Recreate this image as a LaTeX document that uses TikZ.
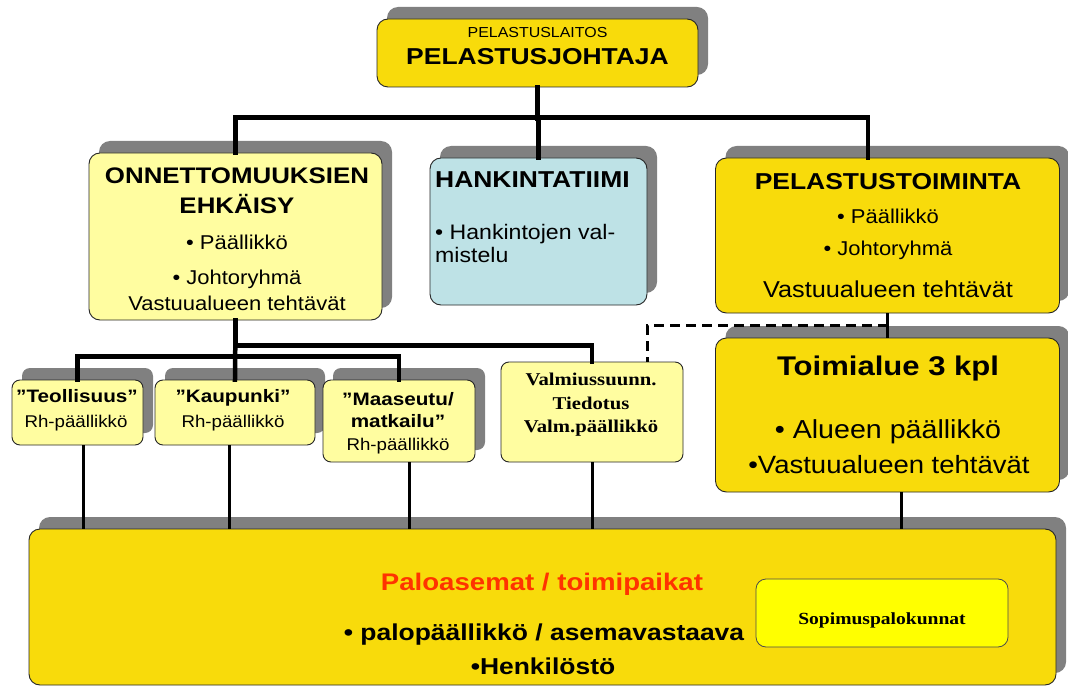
\documentclass[tikz,border=0pt]{standalone}
\usepackage{fontspec}
\setmainfont{Liberation Sans}
\newfontfamily\rsans[FakeStretch=1.1]{Liberation Sans}
\newfontfamily\bsans[FakeStretch=1.15]{Liberation Sans}
\newfontfamily\bserif[FakeStretch=1.15]{Liberation Serif}
\usetikzlibrary{shadows,calc}
\newcommand\fsz[1]{\fontsize{#1}{#1}\selectfont}
\definecolor{gold}{HTML}{F8DB0B}
\definecolor{pale}{HTML}{FFFDA0}
\definecolor{aqua}{HTML}{BEE2E6}
\definecolor{shade}{HTML}{808080}
\definecolor{lemon}{HTML}{FFFF00}
\definecolor{fire}{HTML}{FF3300}
\begin{document}
\begin{tikzpicture}[x=1pt,y=-1pt,
  flat/.style={draw=black!85, line width=0.9pt, rounded corners=11pt, inner sep=0pt},
  box/.style={flat, drop shadow={shadow xshift=10pt, shadow yshift=12pt, fill=shade, opacity=1}},
  smallbox/.style={box, rounded corners=8pt},
  txt/.style={anchor=base, inner sep=0pt},
  upline/.style={line width=4.5pt, line join=miter, line cap=rect},
  lowline/.style={line width=3pt},
  dashline/.style={line width=3pt, dash pattern=on 10pt off 6pt},
  ttl/.style={txt, font=\bsans\bfseries\fsz{#1}},
  ttl/.default=23,
  reg/.style={txt, font=\rsans\fsz{#1}},
  bld/.style={txt, font=\bsans\bfseries\fsz{#1}},
  srf/.style={txt, font=\bserif\bfseries\fsz{#1}}]
\useasboundingbox (0,0) rectangle (1068,687);
\fill[white] (0,0) rectangle (1068,687);

% ---- boxes ----
\node[box, fill=gold, minimum width=321, minimum height=68] (top) at (537.5,53) {};
\node[box, fill=pale, minimum width=293, minimum height=167] (onn) at (235.5,236.5) {};
\node[box, fill=aqua, minimum width=217, minimum height=147] (hank) at (538.5,231.5) {};
\node[box, fill=gold, minimum width=344, minimum height=155] (pel) at (887.5,235.5) {};
\node[box, fill=gold, minimum width=344, minimum height=154] (toim) at (887.5,415) {};
\node[flat, rounded corners=8pt, fill=pale, minimum width=182, minimum height=100] (valm) at (592,412) {};
\node[smallbox, fill=pale, minimum width=131, minimum height=65] (teol) at (77.5,412.5) {};
\node[smallbox, fill=pale, minimum width=160, minimum height=65] (kaup) at (235,412.5) {};
\node[smallbox, fill=pale, minimum width=152, minimum height=82] (maas) at (399,421) {};
\node[box, fill=gold, minimum width=1027, minimum height=156] (base) at (542.5,607) {};
\node[draw=black!70, line width=0.8pt, rounded corners=10pt, fill=lemon,
      minimum width=252, minimum height=68, inner sep=0pt] (sopi) at (882,613) {};

% ---- texts ----
\node[reg=14.5] (top-a) at (537.5,38) {PELASTUSLAITOS};
\node[ttl] (top-b) at (537.5,65) {PELASTUSJOHTAJA};

\node[ttl=22.5] (onn-a) at (237,184) {ONNETTOMUUKSIEN};
\node[ttl=22.5] (onn-b) at (237,214) {EHKÄISY};
\node[reg=20] (onn-c) at (237,249) {• Päällikkö};
\node[reg=20] (onn-d) at (237,284) {• Johtoryhmä};
\node[reg=20] (onn-e) at (237,310) {Vastuualueen tehtävät};

\node[ttl, anchor=base west] (hank-a) at (435,188) {HANKINTATIIMI};
\node[reg=21, anchor=base west] (hank-b) at (435,240) {• Hankintojen val-};
\node[reg=21, anchor=base west] (hank-c) at (435,262) {mistelu};

\node[ttl] (pel-a) at (888,190) {PELASTUSTOIMINTA};
\node[reg=20] (pel-b) at (888,223) {• Päällikkö};
\node[reg=20] (pel-c) at (888,255) {• Johtoryhmä};
\node[reg=23] (pel-d) at (888,297) {Vastuualueen tehtävät};

\node[bld=27] (toim-a) at (888,375) {Toimialue 3 kpl};
\node[reg=26] (toim-b) at (888,438) {• Alueen päällikkö};
\node[reg=25] (toim-c) at (889,473) {•Vastuualueen tehtävät};

\node[srf=18] (valm-a) at (591,385) {Valmiussuunn.};
\node[srf=18] (valm-b) at (591,409) {Tiedotus};
\node[srf=18] (valm-c) at (591,432) {Valm.päällikkö};

\node[bld=18] (teol-a) at (77,402) {”Teollisuus”};
\node[reg=17] (teol-b) at (76,427) {Rh-päällikkö};
\node[bld=18] (kaup-a) at (233,402) {”Kaupunki”};
\node[reg=17] (kaup-b) at (233,427) {Rh-päällikkö};
\node[bld=18] (maas-a) at (398,405) {”Maaseutu/};
\node[bld=18] (maas-b) at (398,427) {matkailu”};
\node[reg=17] (maas-c) at (398,450) {Rh-päällikkö};

\node[bld=24, text=fire] (base-a) at (542,590) {Paloasemat / toimipaikat};
\node[bld=23] (base-b) at (544,640) {• palopäällikkö / asemavastaava};
\node[bld=23] (base-c) at (543,674) {•Henkilöstö};
\node[srf=17] (sopi-a) at (882,624) {Sopimuspalokunnat};

% ---- connectors ----
\draw[upline] (top.south) -- ++(0,31);
\draw[upline] (onn.north) -- ++(0,-35) -| ([xshift=-19.5]pel.north);
\draw[upline] (hank.north) -- ++(0,-40);
\draw[upline] (onn.south) -- ++(0,25) -| (valm.north);
\draw[upline] (onn.south) -- (kaup.north);
\draw[upline] (teol.north) -- ++(0,-23) -| (maas.north);
\draw[lowline] (pel.south) -- (toim.north);
\draw[dashline] ($(pel.south)!0.5!(toim.north)$) -| ([xshift=55]valm.north);
\draw[lowline] ([xshift=6]teol.south) -- ([xshift=6]teol.south |- base.north);
\draw[lowline] ([xshift=-6]kaup.south) -- ([xshift=-6]kaup.south |- base.north);
\draw[lowline] ([xshift=10]maas.south) -- ([xshift=10]maas.south |- base.north);
\draw[lowline] (valm.south) -- (valm.south |- base.north);
\draw[lowline] ([xshift=14]toim.south) -- ([xshift=14]toim.south |- base.north);
\end{tikzpicture}
\end{document}
